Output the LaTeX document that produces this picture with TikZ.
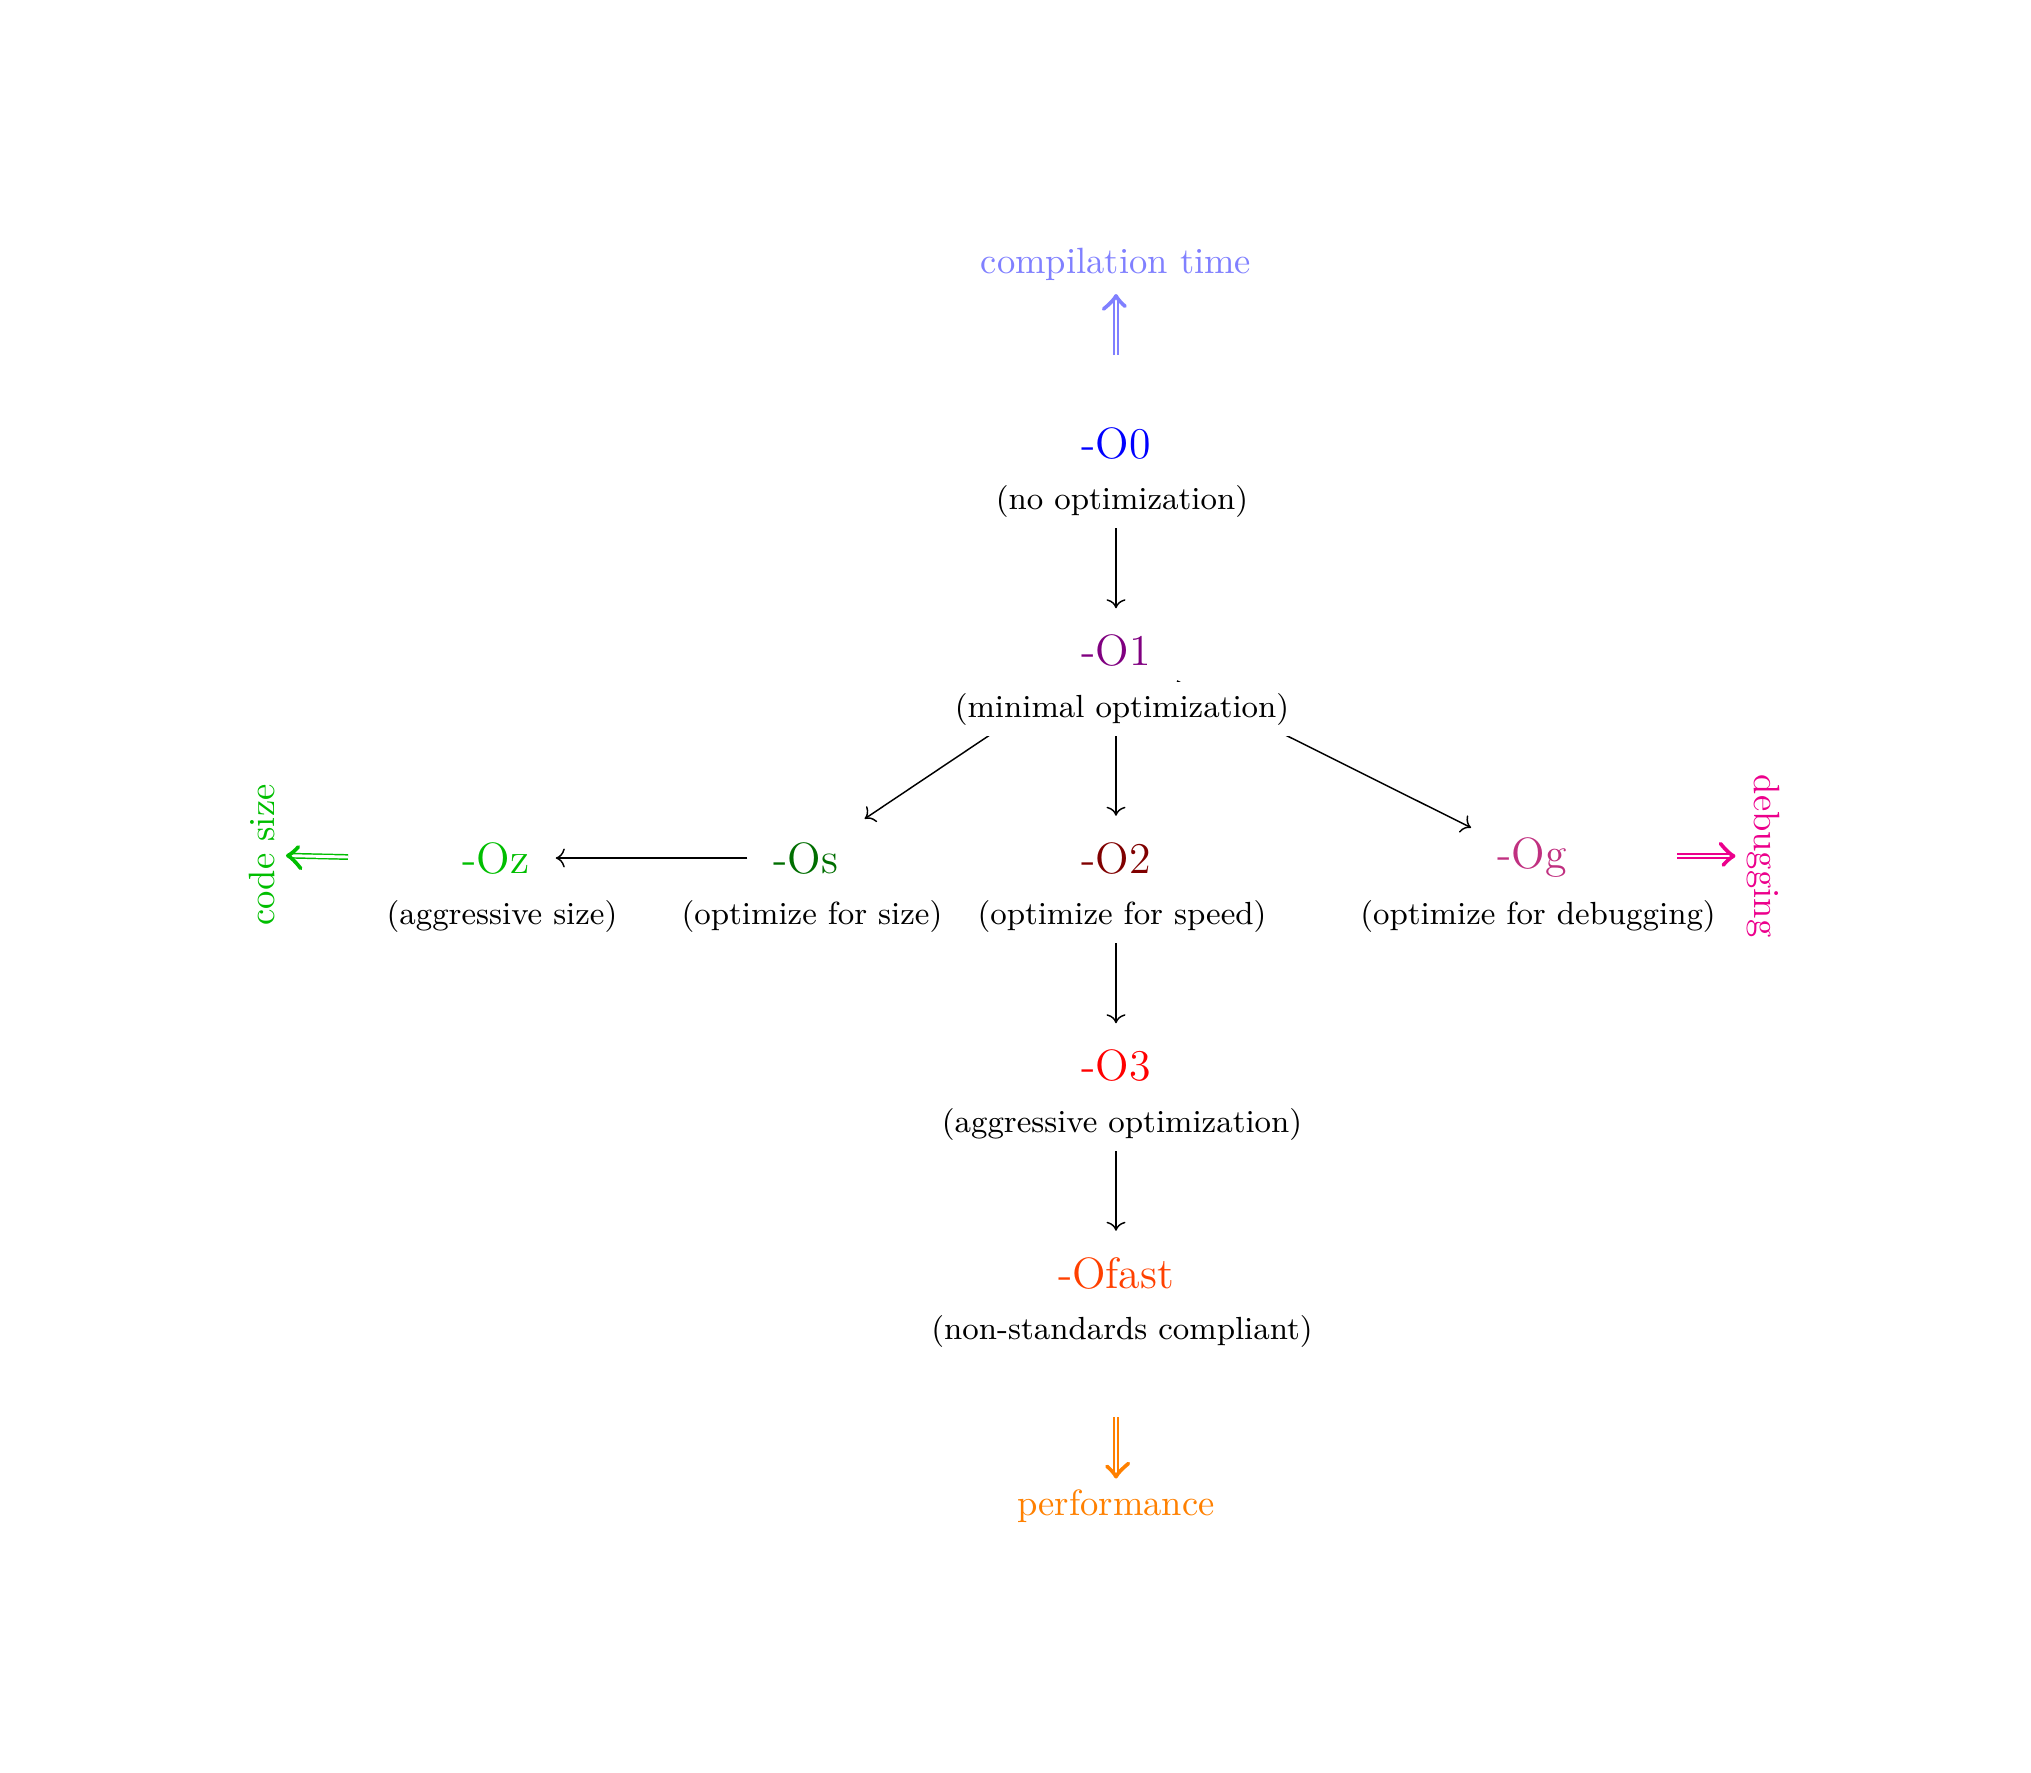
\documentclass[tikz,border=0pt]{standalone}
\usetikzlibrary{arrows.meta,decorations.markings}
\definecolor{cOzero}{RGB}{0,0,255}
\definecolor{cOone}{RGB}{128,0,128}
\definecolor{cOtwo}{RGB}{128,0,0}
\definecolor{cOthree}{RGB}{255,0,0}
\definecolor{cOfast}{RGB}{255,64,0}
\definecolor{cOs}{RGB}{0,110,0}
\definecolor{cOz}{RGB}{0,190,0}
\definecolor{cOg}{RGB}{192,48,128}
\definecolor{cComp}{RGB}{128,128,255}
\definecolor{cPerf}{RGB}{255,128,0}
\definecolor{cDebug}{RGB}{236,0,140}
\definecolor{cSize}{RGB}{0,190,0}
\begin{document}
\begin{tikzpicture}[x=0.0096154cm, y=-0.0096154cm,
  title/.style={font=\large, inner sep=7pt},
  caption/.style={font=\fontsize{8.75pt}{10.5pt}\selectfont, inner xsep=3pt, inner ysep=3pt, fill=white},
  flow/.style={->, line width=0.4pt, black},
  bighead/.style={postaction={decorate, decoration={markings,
    mark=at position 1 with {\draw[draw=#1, line width=1pt, line cap=round, line join=round]
      (-3.6pt,3.4pt) .. controls (-2.2pt,1.7pt) and (-1pt,0.5pt) .. (0,0)
      .. controls (-1pt,-0.5pt) and (-2.2pt,-1.7pt) .. (-3.6pt,-3.4pt);}}}},
  bigarrow/.style={draw=#1, double, double distance=0.8pt, line width=0.4pt,
    shorten >=1.2pt, bighead=#1},
  sidelabel/.style={inner sep=3.33pt}]
\useasboundingbox (0,0) rectangle (2031,1772);

% level titles
\node[title, text=cOzero]  (T0) at (1116,443)   {-O0};
\node[title, text=cOone]   (T1) at (1116,650.5) {-O1};
\node[title, text=cOtwo]   (T2) at (1116,858)   {-O2};
\node[title, text=cOs]     (Ts) at (806,858)    {-Os};
\node[title, text=cOz]     (Tz) at (496,858)    {-Oz};
\node[title, text=cOg]     (Tg) at (1532,858)   {-Og};
\node[title, text=cOthree] (T3) at (1116,1065.5){-O3};
\node[title, text=cOfast]  (Tf) at (1116,1273)  {-Ofast};

% connectors
\draw[flow] (T0) -- (T1);
\draw[flow] (T1) -- (T2);
\draw[flow] (T1) -- (Ts);
\draw[flow] (T1) -- (Tg);
\draw[flow] (Ts) -- (Tz);
\draw[flow] (T2) -- (T3);
\draw[flow] (T3) -- (Tf);

% captions (drawn over the connectors)
\node[caption] (C0) at (1122,501.5)  {(no optimization)};
\node[caption] (C1) at (1122,709)    {(minimal optimization)};
\node[caption] (C2) at (1122,916.5)  {(optimize for speed)};
\node[caption] (Cs) at (812,916.5)   {(optimize for size)};
\node[caption] (Cz) at (502,916.5)   {(aggressive size)};
\node[caption] (Cg) at (1538,916.5)  {(optimize for debugging)};
\node[caption] (C3) at (1122,1124)   {(aggressive optimization)};
\node[caption] (Cf) at (1122,1331.5) {(non-standards compliant)};

% side labels and their arrows
\node[sidelabel, text=cComp, outer sep=0.8pt] (Lc) at (1116,264.5) {compilation time};
\coordinate (Ac) at (1116,355);
\draw[bigarrow=cComp] (Ac) -- (Lc);

\node[sidelabel, text=cPerf] (Lp) at (1116,1506) {performance};
\coordinate (Ap) at (1116,1417);
\draw[bigarrow=cPerf] (Ap) -- (Lp);

\node[sidelabel, text=cSize, rotate=90] (Ls) at (262,855) {code size};
\coordinate (As) at (348,857);
\draw[bigarrow=cSize] (As) -- (Ls);

\node[sidelabel, text=cDebug, rotate=-90] (Ld) at (1763,856) {debugging};
\coordinate (Ad) at (1677,856);
\draw[bigarrow=cDebug] (Ad) -- (Ld);
\end{tikzpicture}
\end{document}
